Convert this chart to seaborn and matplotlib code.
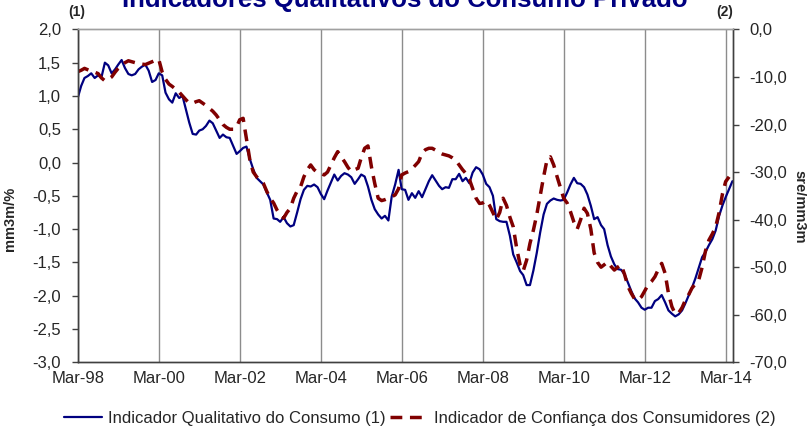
import pandas as pd
import seaborn as sns
import matplotlib.pyplot as plt
import matplotlib.dates as mdates

# ==========================
# DATA (monthly, Mar-98 onwards)
# ==========================
start_month = "1998-03-01"

# Indicador Qualitativo do Consumo (1) - left axis, mm3m/%
iqc = [
    0.97, 1.15, 1.27, 1.30, 1.34, 1.27, 1.31, 1.28, 1.50, 1.46, 1.34, 1.40,
    1.47, 1.54, 1.42, 1.33, 1.31, 1.33, 1.40, 1.44, 1.47, 1.38, 1.21, 1.24,
    1.34, 1.31, 1.05, 0.95, 0.90, 1.04, 0.97, 1.00, 0.80, 0.60, 0.43, 0.42,
    0.48, 0.50, 0.55, 0.63, 0.59, 0.48, 0.37, 0.42, 0.38, 0.37, 0.25, 0.13,
    0.17, 0.22, 0.24, 0.05, -0.10, -0.23, -0.28, -0.33, -0.45, -0.56, -0.84, -0.85,
    -0.89, -0.82, -0.91, -0.96, -0.94, -0.75, -0.55, -0.41, -0.35, -0.36, -0.33, -0.37,
    -0.47, -0.55, -0.42, -0.30, -0.18, -0.27, -0.20, -0.16, -0.18, -0.22, -0.32, -0.25,
    -0.18, -0.21, -0.36, -0.56, -0.70, -0.78, -0.84, -0.80, -0.87, -0.51, -0.33, -0.11,
    -0.40, -0.41, -0.56, -0.46, -0.53, -0.43, -0.52, -0.40, -0.28, -0.19, -0.27, -0.35,
    -0.40, -0.37, -0.38, -0.25, -0.25, -0.17, -0.28, -0.23, -0.31, -0.15, -0.07, -0.10,
    -0.18, -0.32, -0.37, -0.50, -0.85, -0.88, -0.89, -0.89, -1.10, -1.38, -1.50, -1.63,
    -1.69, -1.84, -1.84, -1.62, -1.36, -1.05, -0.78, -0.62, -0.57, -0.54, -0.56, -0.57,
    -0.56, -0.45, -0.33, -0.23, -0.31, -0.32, -0.37, -0.48, -0.65, -0.85, -0.82, -0.94,
    -1.00, -1.24, -1.41, -1.53, -1.60, -1.61, -1.68, -1.80, -1.93, -2.04, -2.10, -2.18,
    -2.21, -2.18, -2.18, -2.08, -2.05, -1.99, -2.10, -2.22, -2.27, -2.31, -2.28, -2.22,
    -2.12, -2.00, -1.88, -1.74, -1.58, -1.42, -1.34, -1.24, -1.15, -1.02, -0.80, -0.64,
    -0.52, -0.40, -0.28,
]

# Indicador de Confianca dos Consumidores (2) - right axis, sre/mm3m
icc = [
    -8.9, -8.6, -8.2, -8.5, -8.8, -9.0, -9.3, -10.2, -10.8, -10.5, -10.0, -9.0,
    -8.2, -7.5, -7.0, -6.6, -6.8, -7.0, -7.1, -7.3, -7.4, -7.1, -6.8, -6.5,
    -6.3, -9.0, -10.5, -11.5, -12.0, -12.6, -13.2, -14.0, -14.8, -15.5, -15.5, -15.2,
    -15.0, -15.5, -16.0, -16.6, -17.2, -18.0, -19.0, -20.0, -20.6, -21.0, -21.0, -20.5,
    -19.0, -18.7, -23.0, -27.5, -30.0, -31.0, -31.8, -32.4, -34.1, -35.5, -36.5, -38.0,
    -39.0, -39.7, -38.5, -37.6, -35.5, -34.0, -33.1, -31.0, -29.5, -28.5, -29.5, -30.1,
    -30.3, -30.6, -30.0, -28.5, -27.0, -25.7, -26.8, -27.8, -29.0, -29.9, -29.5, -29.2,
    -27.0, -25.0, -24.5, -28.9, -32.4, -35.5, -36.0, -35.8, -35.5, -35.2, -34.8, -33.5,
    -30.6, -30.2, -29.9, -29.3, -28.6, -27.8, -26.0, -25.3, -25.0, -25.0, -25.4, -25.9,
    -26.2, -26.4, -26.6, -27.0, -27.5, -28.5, -29.5, -30.3, -31.5, -33.5, -35.5, -36.6,
    -36.5, -36.0, -37.0, -38.5, -40.0, -38.5, -35.5, -37.0, -39.5, -41.5, -46.0, -49.5,
    -50.8, -48.5, -45.0, -42.2, -39.0, -35.0, -31.0, -27.5, -26.8, -28.5, -31.0, -33.4,
    -35.5, -36.5, -38.3, -40.5, -42.0, -40.0, -37.6, -38.7, -42.0, -47.0, -49.0, -50.0,
    -49.5, -48.9, -49.8, -50.6, -50.0, -49.5, -51.5, -54.0, -55.5, -56.7, -56.9, -56.2,
    -55.0, -53.7, -53.0, -52.0, -50.5, -49.2, -51.3, -55.5, -58.3, -59.8, -59.6, -58.5,
    -57.0, -55.8, -54.4, -53.5, -52.7, -50.0, -46.5, -44.3, -43.0, -41.5, -38.5, -34.5,
    -32.0, -31.0,
]

left_ticks = [2.0, 1.5, 1.0, 0.5, 0.0, -0.5, -1.0, -1.5, -2.0, -2.5, -3.0]
right_ticks = [0, -10, -20, -30, -40, -50, -60, -70]

label_iqc = "Indicador Qualitativo do Consumo (1)"
label_icc = "Indicador de Confiança dos Consumidores (2)"
title = "Indicadores Qualitativos do Consumo Privado"

df_iqc = pd.DataFrame({"date": pd.date_range(start_month, periods=len(iqc), freq="MS"), "v": iqc})
df_icc = pd.DataFrame({"date": pd.date_range(start_month, periods=len(icc), freq="MS"), "v": icc})

# ==========================
# PLOT
# ==========================
sns.set_theme(style="white")
plt.rcParams["font.family"] = ["Liberation Sans", "DejaVu Sans"]

BLUE = "#000080"
RED = "#800000"
fsz = 12

fig = plt.figure(figsize=(8.07, 4.32), dpi=100)
ax = fig.add_axes([0.0963, 0.1613, 0.908 - 0.0963, 0.932 - 0.1613])
ax2 = ax.twinx()

sns.lineplot(data=df_iqc, x="date", y="v", ax=ax, color=BLUE, linewidth=1.6, legend=False)
sns.lineplot(data=df_icc, x="date", y="v", ax=ax2, color=RED, linewidth=2.5, legend=False)
ax2.lines[0].set_dashes((3.4, 2.2))

ax.set_xlim(pd.Timestamp("1998-03-01"), pd.Timestamp("2014-05-04"))
ax.set_ylim(-3.0, 2.0)
ax2.set_ylim(-70, 0)
ax.set_yticks(left_ticks)
ax2.set_yticks(right_ticks)
ax.set_yticklabels([f"{t:.1f}".replace(".", ",") for t in left_ticks], fontsize=fsz)
ax2.set_yticklabels([f"{t:.1f}".replace(".", ",") for t in right_ticks], fontsize=fsz)

xt = pd.date_range("1998-03-01", "2014-03-01", freq="24MS")
ax.set_xticks(xt)
ax.xaxis.set_major_formatter(mdates.DateFormatter("%b-%y"))
ax.tick_params(axis="x", labelsize=fsz, direction="out", length=4, width=1, color="#404040", pad=2)
ax.tick_params(axis="y", direction="out", length=4, width=1, color="#404040", left=True, pad=8)
ax2.tick_params(axis="y", direction="out", length=4, width=1, color="#404040", right=True, pad=8)

ax.grid(axis="x", color="#8c8c8c", linewidth=1.0)
ax.grid(axis="y", visible=False)
ax2.grid(False)
ax.set_xlabel("")
ax.set_ylabel("mm3m/%", fontsize=10.5, fontweight="bold")
ax.yaxis.set_label_coords(-0.093, 0.43)
ax2.set_ylabel("sre/mm3m", fontsize=10.5, fontweight="bold", rotation=-90, va="center")
ax2.yaxis.set_label_coords(1.102, 0.466)

for a in (ax, ax2):
    for s in a.spines.values():
        s.set_linewidth(1.0)
    a.spines["left"].set_color("#404040")
    a.spines["bottom"].set_color("#404040")
    a.spines["right"].set_color("#404040")
    a.spines["top"].set_color("#a0a0a0")

fig.text(77 / 807, 1 - 12 / 432, "(1)", fontsize=10, fontweight="bold", ha="center", va="center")
fig.text(725 / 807, 1 - 12 / 432, "(2)", fontsize=10, fontweight="bold", ha="center", va="center")
fig.text(405 / 807, 1 - 7 / 432, title, fontsize=18.5, fontweight="bold", color=BLUE, ha="center", va="baseline")

handles = [ax.lines[0], ax2.lines[0]]
fig.legend(handles, [label_iqc, label_icc], loc="center", bbox_to_anchor=(0.52, 1 - 418 / 432),
           ncol=2, frameon=False, fontsize=fsz, handlelength=2.3, handletextpad=0.35,
           columnspacing=0.25, borderpad=0)

plt.savefig("out.png", dpi=100)
plt.close()
